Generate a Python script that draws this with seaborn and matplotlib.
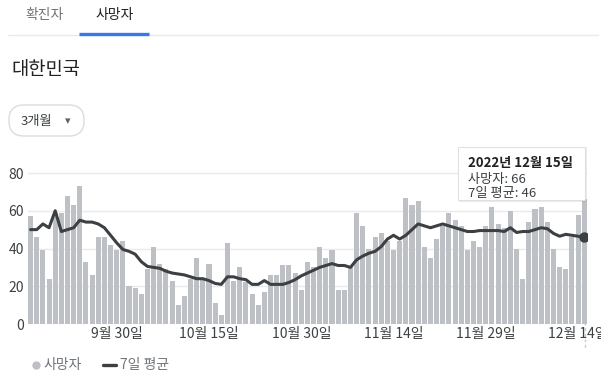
import matplotlib
matplotlib.use('Agg')
import matplotlib.pyplot as plt
import seaborn as sns
import pandas as pd
import numpy as np
from matplotlib.patches import FancyBboxPatch, Rectangle
from matplotlib.lines import Line2D
from matplotlib.transforms import IdentityTransform, Bbox

# ---------------- data ----------------
start_date = '2022-09-16'
deaths = [57, 46, 39, 24, 59, 59, 68, 63, 73, 33,
          26, 46, 46, 42, 39, 44, 20, 19, 16, 29,
          41, 32, 29, 23, 10, 15, 24, 35, 24, 32,
          11, 5, 43, 23, 30, 22, 16, 10, 17, 26,
          26, 31, 31, 27, 18, 33, 30, 41, 35, 39,
          18, 18, 30, 59, 52, 40, 46, 48, 44, 39,
          44, 67, 63, 65, 41, 35, 45, 52, 59, 55,
          52, 39, 44, 41, 52, 62, 53, 51, 60, 40,
          24, 54, 61, 62, 54, 40, 30, 29, 46, 58,
          66]
avg7 = [50, 50, 53, 51, 60, 49, 50, 51, 55, 54,
        54, 53, 51, 47, 43, 39.5, 38.5, 37, 33, 30.5,
        30, 29.5, 28, 27, 26.5, 26, 25, 24, 24, 23,
        21.5, 21, 25, 25, 24, 23.5, 21, 21, 23, 21,
        21, 21, 22, 23.5, 25.5, 27, 28.5, 30, 31, 32,
        31, 31, 30, 34, 36, 37.5, 38.5, 41, 45, 47,
        45, 47, 50, 53, 52, 51, 52, 53, 52, 51,
        50, 49, 49, 49.5, 49.5, 49.5, 49.5, 49, 51, 48.5,
        49, 49, 50, 51, 50.5, 48, 46.5, 47.5, 47, 46.5,
        46]
tick_dates = ['2022-09-30', '2022-10-15', '2022-10-30',
              '2022-11-14', '2022-11-29', '2022-12-14']
tick_labels = ['9월 30일', '10월 15일', '10월 30일',
               '11월 14일', '11월 29일', '12월 14일']
y_ticks = [0, 20, 40, 60, 80]
tabs = ['확진자', '사망자']
title = '대한민국'
range_label = '3개월'
legend_labels = ['사망자', '7일 평균']
tooltip_date = '2022년 12월 15일'
tooltip_deaths = 66
tooltip_avg = 46

# ---------------- style ----------------
sns.set_theme(style='white')
plt.rcParams['font.family'] = ['Noto Sans CJK KR', 'DejaVu Sans']

BAR = '#bdc1c6'
LINE = '#3c4043'
TXT = '#3c4043'
GREY_TXT = '#70757a'

dates = pd.date_range(start_date, periods=len(deaths))
df = pd.DataFrame({'day': np.arange(len(deaths)), 'deaths': deaths, 'avg': avg7})

W, H = 611, 375
fig = plt.figure(figsize=(W / 100, H / 100), dpi=100)
PX = IdentityTransform()


def Y(py):
    return H - py


ymax = 82
ax_top = 324 - ymax * (151 / 80)
ax = fig.add_axes([28 / W, (H - 324) / H, (587 - 28) / W, (324 - ax_top) / H])

sns.barplot(data=df, x='day', y='deaths', native_scale=True, color=BAR,
            saturation=1, width=0.82, errorbar=None, linewidth=0, ax=ax, zorder=2)
sns.lineplot(data=df, x='day', y='avg', color=LINE, linewidth=2.2, ax=ax,
             zorder=3)
ax.plot([df['day'].iloc[-1]], [df['avg'].iloc[-1]], 'o', color=LINE,
        markersize=6.5, zorder=4)

n = len(deaths)
ax.set_xlim(-0.42, n - 1 + 0.45)
ax.set_ylim(0, ymax)
ax.set_yticks(y_ticks)
ax.set_yticklabels([str(v) for v in y_ticks])
pos = [int((pd.Timestamp(d) - dates[0]).days) for d in tick_dates]
ax.set_xticks(pos)
ax.set_xticklabels(tick_labels)
ax.set_xlabel('')
ax.set_ylabel('')
ax.grid(False)
ax.yaxis.grid(True, color='#e8eaed', linewidth=1)
ax.set_axisbelow(True)
for s in ax.spines.values():
    s.set_visible(False)
ax.tick_params(axis='y', length=0, pad=3, labelsize=10, labelcolor=TXT)
ax.tick_params(axis='x', length=0, pad=2.5, labelsize=10, labelcolor=TXT)
ax.patch.set_alpha(0)
# the chart area clips the last date label at its right edge
clip = Bbox.from_extents(0, 0, 601, H)
for lab in ax.get_xticklabels():
    lab.set_clip_box(clip)
    lab.set_clip_on(True)

# ---------------- page chrome ----------------
fig.text(45, Y(15), tabs[0], transform=PX, ha='center', va='center',
         fontsize=10, color=GREY_TXT)
fig.text(115, Y(15), tabs[1], transform=PX, ha='center', va='center',
         fontsize=10, color='#202124')
fig.add_artist(Line2D([8, 598], [Y(35), Y(35)], transform=PX, color='#e8eaed',
                      linewidth=1))
fig.add_artist(Line2D([79, 149], [Y(34), Y(34)], transform=PX, color='#3b78e7',
                      linewidth=2.4, solid_capstyle='butt'))
fig.text(11, Y(70), title, transform=PX, ha='left', va='center',
         fontsize=13.5, color='#202124')
pill = FancyBboxPatch((9, Y(136)), 75, 31, boxstyle='round,pad=0,rounding_size=15',
                      transform=PX, facecolor='white', edgecolor='#dadce0',
                      linewidth=1)
fig.add_artist(pill)
fig.text(21, Y(121), range_label, transform=PX, ha='left', va='center',
         fontsize=9.5, color=TXT)
fig.text(68, Y(121), '▾', transform=PX, ha='center', va='center',
         fontsize=8, color='#5f6368', family='DejaVu Sans')

# legend
fig.add_artist(Line2D([36], [Y(365)], transform=PX, marker='o', markersize=5,
                      color=BAR, linestyle='none'))
fig.text(44, Y(365), legend_labels[0], transform=PX, ha='left', va='center',
         fontsize=10, color=GREY_TXT)
fig.add_artist(Line2D([103, 116], [Y(365), Y(365)], transform=PX, color=LINE,
                      linewidth=2.4))
fig.text(120, Y(365), legend_labels[1], transform=PX, ha='left', va='center',
         fontsize=10, color=GREY_TXT)

# tooltip (guide line drawn beneath the chart marks)
fig.add_artist(Line2D([585, 585], [Y(200), Y(348)], transform=PX,
                      color='#c8c8c8', linewidth=1, linestyle=(0, (2, 2)),
                      zorder=-1))
fig.add_artist(Rectangle((459, Y(202)), 128, 55, transform=PX,
                         facecolor='#000000', alpha=0.08, edgecolor='none'))
fig.add_artist(Rectangle((458, Y(200)), 127, 53, transform=PX,
                         facecolor='white', edgecolor='#e0e0e0', linewidth=0.8))
fig.text(468, Y(163), tooltip_date, transform=PX, ha='left', va='center',
         fontsize=9.5, color='#202124', fontweight='bold')
fig.text(468, Y(179), f'사망자: {tooltip_deaths}', transform=PX, ha='left',
         va='center', fontsize=9.5, color=TXT)
fig.text(468, Y(194), f'7일 평균: {tooltip_avg}', transform=PX, ha='left',
         va='center', fontsize=9.5, color=TXT)

fig.savefig('out.png', dpi=100)
